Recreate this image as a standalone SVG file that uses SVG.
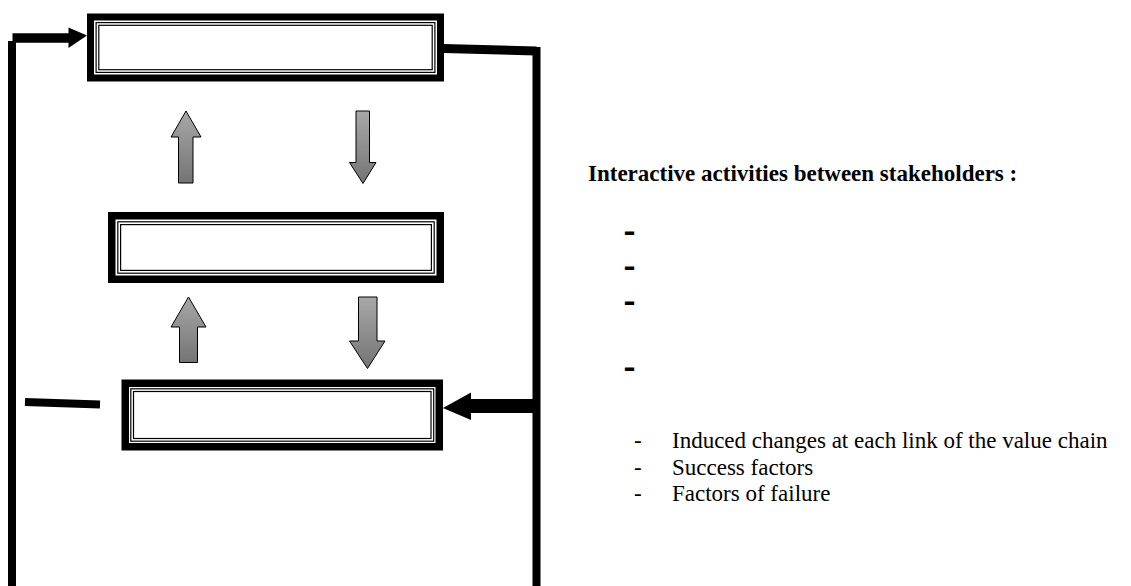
<svg xmlns="http://www.w3.org/2000/svg" width="1131" height="586" viewBox="0 0 1131 586">
<defs>
<linearGradient id="g" x1="0" y1="0" x2="0" y2="1">
<stop offset="0" stop-color="#a8a8a8"/>
<stop offset="1" stop-color="#747474"/>
</linearGradient>
<style>
.frame{fill:#000}
.inner{fill:#fff}
.dl{fill:none;stroke:#000;stroke-width:1.2}
.conn{stroke:#000;fill:none}
.head{fill:#000}
.ga{fill:url(#g);stroke:#000;stroke-width:1}
.title{font-family:"Liberation Serif",serif;font-weight:bold;font-size:23px;fill:#000}
.bd{font-family:"Liberation Sans",sans-serif;font-weight:bold;font-size:30px;fill:#000}
.li{font-family:"Liberation Serif",serif;font-size:23px;fill:#000}
</style>
</defs>
<rect width="1131" height="586" fill="#fff"/>
<g id="box-top">
<rect class="frame" x="87" y="13.5" width="357" height="68"/>
<rect class="inner" x="94" y="20.5" width="343" height="54"/>
<rect class="dl" x="96.1" y="22.6" width="338.8" height="49.8"/>
<rect class="dl" x="98.8" y="25.3" width="333.4" height="44.4"/>
</g>
<g id="box-middle">
<rect class="frame" x="108" y="212" width="336" height="71"/>
<rect class="inner" x="115.5" y="219.5" width="321" height="56"/>
<rect class="dl" x="117.8" y="221.8" width="316.4" height="51.4"/>
<rect class="dl" x="120.6" y="224.6" width="310.8" height="45.8"/>
</g>
<g id="box-bottom">
<rect class="frame" x="121.5" y="379.5" width="321.5" height="71"/>
<rect class="inner" x="129" y="387" width="306.5" height="56"/>
<rect class="dl" x="130.8" y="388.8" width="302.9" height="52.4"/>
<rect class="dl" x="133.5" y="391.5" width="297.5" height="47"/>
</g>
<g id="connectors">
<line class="conn" x1="12" y1="586" x2="12" y2="41" stroke-width="8"/>
<line class="conn" x1="12.5" y1="38" x2="70" y2="38" stroke-width="9.5"/>
<polygon class="head" points="68.5,27.5 87,35.5 68.5,48"/>
<line class="conn" x1="444" y1="48.5" x2="536.5" y2="51" stroke-width="9"/>
<line class="conn" x1="536.5" y1="47" x2="536.5" y2="586" stroke-width="8"/>
<line class="conn" x1="533" y1="406" x2="469" y2="406" stroke-width="14"/>
<polygon class="head" points="471,392.5 443,408 471,420"/>
<line class="conn" x1="25" y1="402" x2="100" y2="404.5" stroke-width="8"/>
<polygon class="ga" points="186,111 201,137 193,137 193,183 178.5,183 178.5,137 171,137"/>
<polygon class="ga" points="356,111 369.5,111 369.5,162.5 376,162.5 363,183.5 349.5,162.5 356,162.5"/>
<polygon class="ga" points="188.5,297 206,327 197.5,327 197.5,362.5 179.5,362.5 179.5,327 171,327"/>
<polygon class="ga" points="358.5,297 377,297 377,341 385,341 367.5,368.5 349.5,341 358.5,341"/>
</g>
<g id="notes">
<text class="title" x="588" y="181">Interactive activities between stakeholders :</text>
<text class="bd" x="623.4" y="240.5" textLength="12" lengthAdjust="spacingAndGlyphs">-</text>
<text class="bd" x="623.4" y="275.5" textLength="12" lengthAdjust="spacingAndGlyphs">-</text>
<text class="bd" x="623.4" y="310.5" textLength="12" lengthAdjust="spacingAndGlyphs">-</text>
<text class="bd" x="623.4" y="376.5" textLength="12" lengthAdjust="spacingAndGlyphs">-</text>
<text class="li" x="634" y="448">-</text>
<text class="li" x="672" y="448">Induced changes at each link of the value chain</text>
<text class="li" x="634" y="474.5">-</text>
<text class="li" x="672" y="474.5">Success factors</text>
<text class="li" x="634" y="501">-</text>
<text class="li" x="672" y="501">Factors of failure</text>
</g>
</svg>
